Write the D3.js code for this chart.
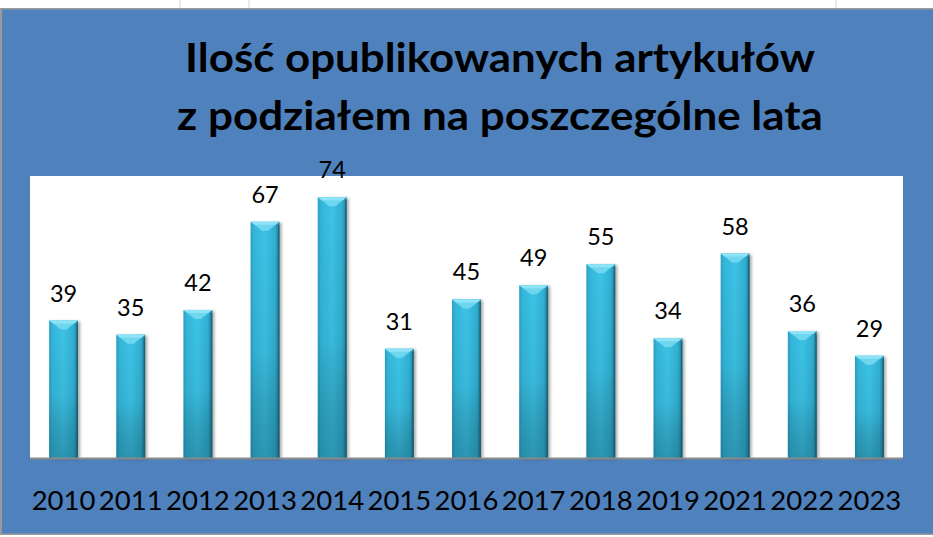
<!DOCTYPE html>
<html><head><meta charset="utf-8">
<script src="https://cdn.jsdelivr.net/npm/d3@7"></script>
<style>html,body{margin:0;padding:0;background:#fff;}svg{display:block;}</style>
</head><body>
<script>
const years = ["2010","2011","2012","2013","2014","2015","2016","2017","2018","2019","2021","2022","2023"];
const counts = [39,35,42,67,74,31,45,49,55,34,58,36,29];
const titleLines = ["Ilość opublikowanych artykułów","z podziałem na poszczególne lata"];
const yMax = 80;

const W = 933, H = 537;
const svg = d3.select("body").append("svg").attr("width", W).attr("height", H);
const defs = svg.append("defs");

// spreadsheet strip behind chart
svg.append("rect").attr("x",0).attr("y",0).attr("width",W).attr("height",H).attr("fill","#fff");
[180,249,836].forEach(x => svg.append("line").attr("x1",x).attr("x2",x).attr("y1",0).attr("y2",9).attr("stroke","#d4d4d4"));
svg.append("rect").attr("x",0).attr("y",8).attr("width",W).attr("height",527).attr("fill","#9a9a9a");
svg.append("rect").attr("x",2).attr("y",9.5).attr("width",W-2).attr("height",524).attr("fill","#4F81BD");

const plot = {x0:30, x1:903, y0:176, y1:458};
svg.append("rect").attr("x",plot.x0).attr("y",plot.y0).attr("width",plot.x1-plot.x0).attr("height",plot.y1-plot.y0).attr("fill","#fff");

const x = d3.scaleBand().domain(years).range([plot.x0, plot.x1]).paddingInner(0.57).paddingOuter(0.285);
const y = d3.scaleLinear().domain([0, yMax]).range([plot.y1, plot.y0]);

// gradients
const gh = defs.append("linearGradient").attr("id","gh").attr("x1","0").attr("x2","1").attr("y1","0").attr("y2","0");
[["0%","#2a9fc0"],["12%","#34b6da"],["50%","#3cc3e6"],["85%","#31afd2"],["100%","#1f7891"]].forEach(s=>gh.append("stop").attr("offset",s[0]).attr("stop-color",s[1]));
const gv = defs.append("linearGradient").attr("id","gv").attr("x1","0").attr("x2","0").attr("y1","0").attr("y2","1");
[["0%","#000",0],["55%","#000",0.05],["100%","#0a3a48",0.32]].forEach(s=>gv.append("stop").attr("offset",s[0]).attr("stop-color",s[1]).attr("stop-opacity",s[2]));
const f = defs.append("filter").attr("id","sh").attr("x","-30%").attr("y","-10%").attr("width","160%").attr("height","120%");
f.append("feGaussianBlur").attr("in","SourceAlpha").attr("stdDeviation",1.5);
f.append("feOffset").attr("dx",2).attr("dy",1).attr("result","b");
f.append("feComponentTransfer").append("feFuncA").attr("type","linear").attr("slope",0.35);
const fm = f.append("feMerge"); fm.append("feMergeNode"); fm.append("feMergeNode").attr("in","SourceGraphic");

const data = years.map((yr,i)=>({yr, v:counts[i]}));
const g = svg.append("g");
const bars = g.selectAll("g.bar").data(data).join("g").attr("class","bar");
bars.append("rect").attr("x",d=>x(d.yr)).attr("y",d=>y(d.v)).attr("width",x.bandwidth()).attr("height",d=>y(0)-y(d.v)).attr("fill","url(#gh)").attr("filter","url(#sh)");
bars.append("rect").attr("x",d=>x(d.yr)).attr("y",d=>y(d.v)).attr("width",x.bandwidth()).attr("height",d=>y(0)-y(d.v)).attr("fill","url(#gv)");
// top bevel
bars.append("path").attr("d",d=>{
  const x0=x(d.yr), x1=x0+x.bandwidth(), t=y(d.v), c=(x0+x1)/2;
  return `M${x0},${t}L${x1},${t}L${x1-4},${t+3}L${c+3},${t+9}L${c-3},${t+9}L${x0+4},${t+3}Z`;
}).attr("fill","#6fd6f0");
bars.append("path").attr("d",d=>{
  const x0=x(d.yr), x1=x0+x.bandwidth(), t=y(d.v);
  return `M${x0},${t}L${x1},${t}L${x1-4},${t+3}L${x0+4},${t+3}Z`;
}).attr("fill","#8fe3f7");
// right dark edge
bars.append("rect").attr("x",d=>x(d.yr)+x.bandwidth()-1.5).attr("y",d=>y(d.v)+3).attr("width",1.5).attr("height",d=>y(0)-y(d.v)-3).attr("fill","#1a5a6b").attr("opacity",0.7);

// axis line
svg.append("line").attr("x1",plot.x0).attr("x2",plot.x1).attr("y1",plot.y1+0.5).attr("y2",plot.y1+0.5).attr("stroke","#8a8a8a").attr("stroke-width",2);

// data labels
svg.append("g").selectAll("text").data(data).join("text")
  .attr("x",d=>x(d.yr)+x.bandwidth()/2).attr("y",d=>y(d.v)-19)
  .attr("text-anchor","middle").attr("font-family","Lato, 'Open Sans', sans-serif").attr("font-size",23.5).attr("fill","#000")
  .text(d=>d.v);

// x axis labels
const xAxis = d3.axisBottom(x).tickSize(0).tickPadding(0);
const ax = svg.append("g").attr("transform",`translate(0,${plot.y1})`).call(xAxis);
ax.select(".domain").remove();
ax.selectAll("text").attr("font-family","Lato, 'Open Sans', sans-serif").attr("font-size",27.5).attr("fill","#000").attr("dy",null).attr("y",52);

// title
const tW = [630, 646], tBase = [72, 130];
titleLines.forEach((s,i)=>{
  const t = svg.append("text").attr("x",0).attr("y",0).attr("text-anchor","middle")
    .attr("font-family","Lato, 'Open Sans', sans-serif").attr("font-weight","bold").attr("font-size",40).attr("fill","#000").text(s);
  const w = t.node().getComputedTextLength();
  t.attr("transform",`translate(500,${tBase[i]}) scale(${tW[i]/w},1)`);
});
</script>
</body></html>
